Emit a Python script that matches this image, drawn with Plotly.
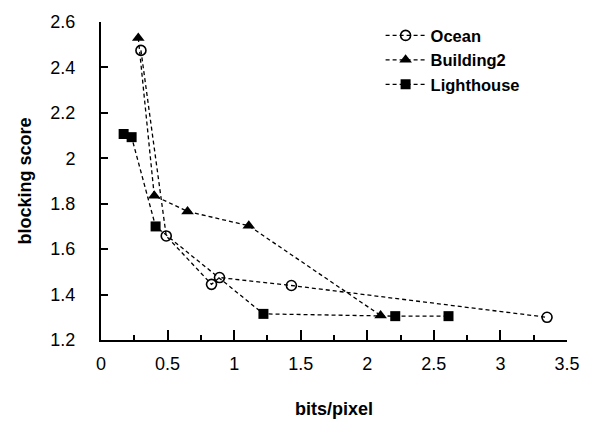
import plotly.graph_objects as go

ocean_x = [0.30, 0.49, 0.83, 0.89, 1.43, 3.35]
ocean_y = [2.475, 1.658, 1.445, 1.475, 1.44, 1.30]
building_x = [0.28, 0.40, 0.65, 1.11, 2.10]
building_y = [2.53, 1.835, 1.766, 1.703, 1.308]
light_x = [0.17, 0.23, 0.41, 1.22, 2.21, 2.61]
light_y = [2.107, 2.093, 1.70, 1.315, 1.305, 1.305]

FONT = "Arial, Liberation Sans, sans-serif"
line = dict(color="black", width=1.3, dash="4px,3px")

fig = go.Figure()
fig.add_trace(go.Scatter(x=ocean_x, y=ocean_y, mode="lines+markers", name="Ocean",
                         line=line,
                         marker=dict(symbol="circle-open", size=10, color="black", line=dict(width=1.6))))
fig.add_trace(go.Scatter(x=building_x, y=building_y, mode="lines+markers", name="Building2",
                         line=line,
                         marker=dict(symbol="triangle-up", size=11, color="black")))
fig.add_trace(go.Scatter(x=light_x, y=light_y, mode="lines+markers", name="Lighthouse",
                         line=line,
                         marker=dict(symbol="square", size=10, color="black")))

fig.update_layout(
    width=592, height=430,
    margin=dict(l=101, r=23, t=16, b=90),
    paper_bgcolor="white", plot_bgcolor="white",
    font=dict(family=FONT, size=18, color="black"),
    showlegend=True,
    legend=dict(x=0.60, y=1.012, xanchor="left", yanchor="top",
                bgcolor="rgba(0,0,0,0)", font=dict(size=16.5, family=FONT, weight="bold"),
                tracegroupgap=0, itemwidth=40),
    xaxis=dict(range=[0, 3.5], tick0=0, dtick=0.5, showgrid=False, zeroline=False,
               showline=True, linecolor="black", linewidth=2,
               ticks="inside", ticklen=10, tickwidth=2, tickcolor="black",
               minor=dict(ticks="inside", ticklen=5, tickwidth=2, tickcolor="black", dtick=0.25),
               tickfont=dict(size=18), ticklabelstandoff=6,
               title=dict(text="bits/pixel", font=dict(size=18, weight="bold"), standoff=30)),
    yaxis=dict(range=[1.2, 2.6], tick0=1.2, dtick=0.2, showgrid=False, zeroline=False,
               showline=True, linecolor="black", linewidth=2,
               ticks="inside", ticklen=7, tickwidth=2, tickcolor="black",
               tickfont=dict(size=18), ticklabelstandoff=20,
               title=dict(text="blocking score", font=dict(size=18, weight="bold"), standoff=14)),
)

fig.write_html("out.html")
